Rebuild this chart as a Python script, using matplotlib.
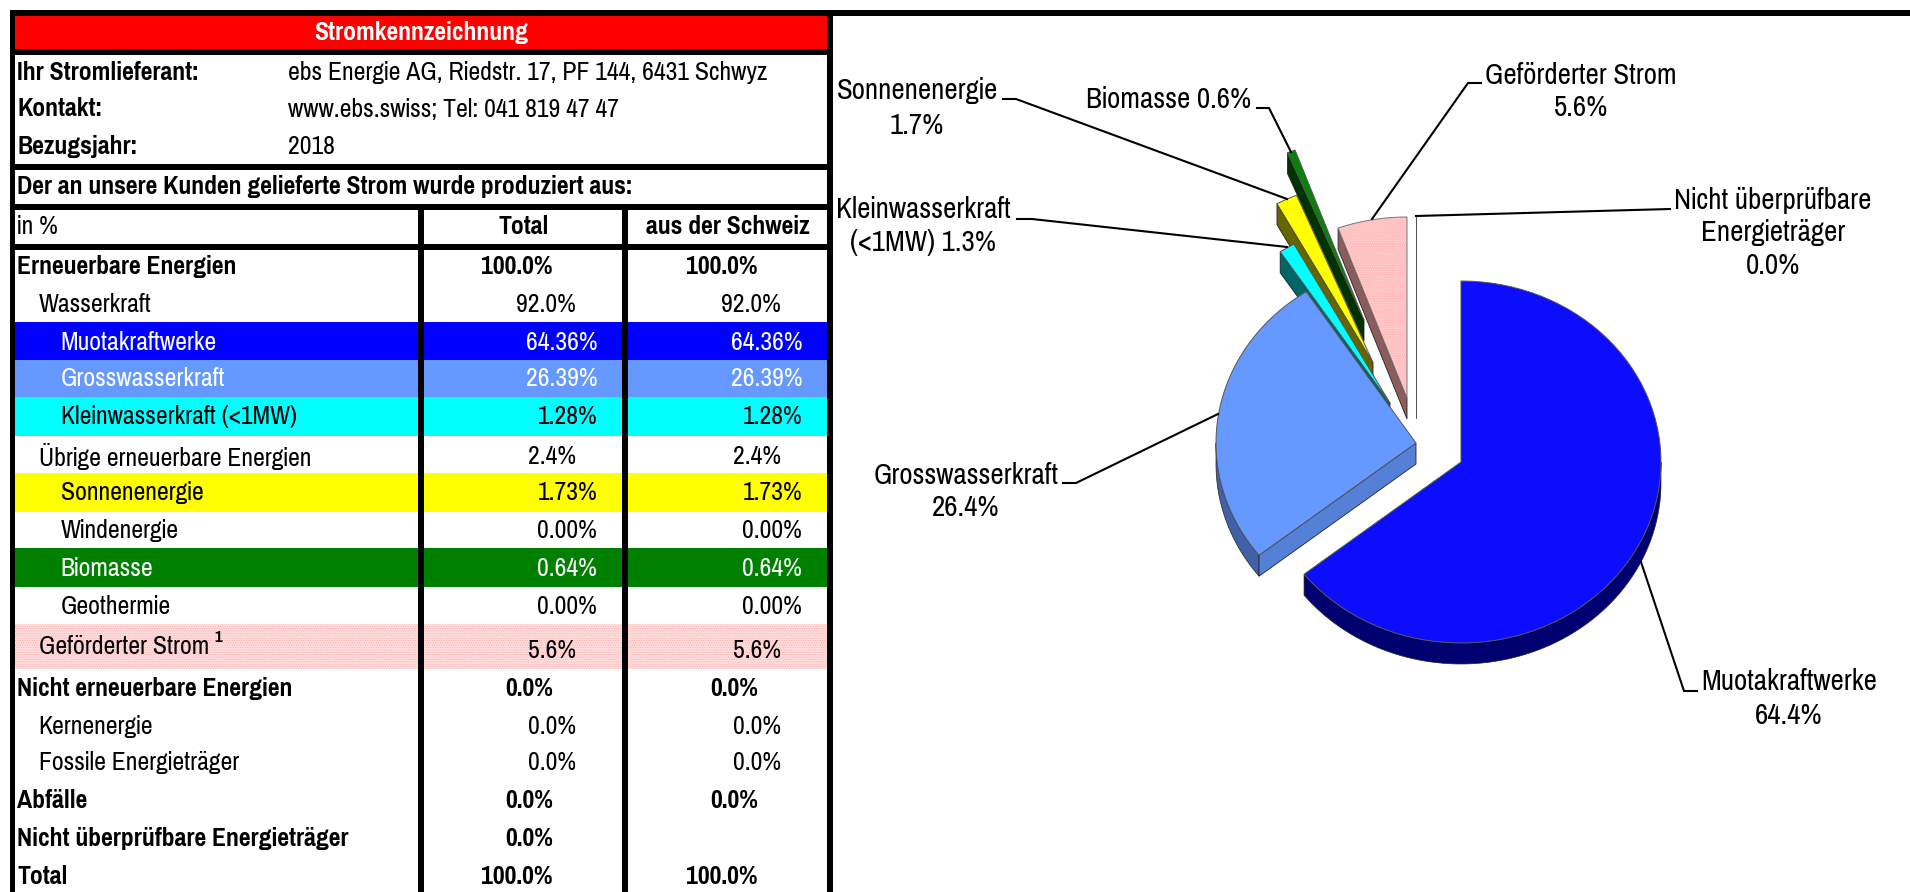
import numpy as np
import matplotlib
matplotlib.use('Agg')
import matplotlib.pyplot as plt
from matplotlib.patches import Rectangle, Polygon

plt.rcParams['font.family'] = ['Pragati Narrow', 'Liberation Sans', 'DejaVu Sans']
plt.rcParams['hatch.linewidth'] = 0.4

title = 'Stromkennzeichnung'
info_keys = ['Ihr Stromlieferant:', 'Kontakt:', 'Bezugsjahr:']
info_values = ['ebs Energie AG, Riedstr. 17, PF 144, 6431 Schwyz',
               'www.ebs.swiss; Tel: 041 819 47 47', '2018']
subtitle = 'Der an unsere Kunden gelieferte Strom wurde produziert aus:'

# Tabelle
row_labels = ['Erneuerbare Energien', 'Wasserkraft', 'Muotakraftwerke', 'Grosswasserkraft',
              'Kleinwasserkraft (<1MW)', 'Übrige erneuerbare Energien', 'Sonnenenergie',
              'Windenergie', 'Biomasse', 'Geothermie', 'Geförderter Strom',
              'Nicht erneuerbare Energien', 'Kernenergie', 'Fossile Energieträger',
              'Abfälle', 'Nicht überprüfbare Energieträger', 'Total']
row_total = ['100.0%', '92.0%', '64.36%', '26.39%', '1.28%', '2.4%', '1.73%', '0.00%',
             '0.64%', '0.00%', '5.6%', '0.0%', '0.0%', '0.0%', '0.0%', '0.0%', '100.0%']
row_swiss = ['100.0%', '92.0%', '64.36%', '26.39%', '1.28%', '2.4%', '1.73%', '0.00%',
             '0.64%', '0.00%', '5.6%', '0.0%', '0.0%', '0.0%', '0.0%', '', '100.0%']
row_level = [0, 1, 2, 2, 2, 1, 2, 2, 2, 2, 1, 0, 1, 1, 0, 0, 0]

# Torte
pie_values = [64.36, 26.39, 1.28, 1.73, 0.64, 5.6, 0.0]
pie_labels = [['Muotakraftwerke', '64.4%'], ['Grosswasserkraft', '26.4%'],
              ['Kleinwasserkraft', '(<1MW) 1.3%'], ['Sonnenenergie', '1.7%'],
              ['Biomasse 0.6%'], ['Geförderter Strom', '5.6%'],
              ['Nicht überprüfbare', 'Energieträger', '0.0%']]

# Layout in Pixeln
row_y = [267, 304, 343, 379, 417, 456, 493, 530, 568, 606, 646, 689, 726, 763, 801, 839, 876]
row_band = {2: (322, 360, '#0000FF', 'white'), 3: (360, 397, '#6699FF', 'white'),
            4: (397, 436, '#00FFFF', 'black'), 6: (473, 512, '#FFFF00', 'black'),
            8: (548, 587, '#008000', 'white')}
label_x = [17, 38.5, 60.5]
value_right = [553, 576, 597]
cols = [(15, 418), (424, 622), (628, 827)]

centres = [(1461, 462), (1416, 443), (1390, 403), (1373, 362.5), (1364, 320), (1407, 398), (1416, 397)]
face_col = ['#0C0CFF', '#6699FF', '#00FFFF', '#FFFF00', '#0A800A', '#FFBFBF', '#FFFFFF']
cut_col = ['#000070', '#5580D8', '#006666', '#666600', '#003300', '#8A5C5C', '#FFFFFF']
arc_col = ['#000070', '#4060A8', '#006666', '#666600', '#003300', '#8A5C5C', '#FFFFFF']
draw_order = [5, 6, 4, 3, 2, 1, 0]
rx, ry, depth = 200, 181, 21

leaders = [[(1697, 691), (1684, 691), (1641, 562)],
           [(1063, 483), (1076, 483), (1218, 414)],
           [(1017, 219), (1032, 219), (1287, 247)],
           [(1003, 99), (1016, 99), (1287, 199)],
           [(1257, 108), (1269, 108), (1291, 152)],
           [(1481, 83), (1468, 83), (1372, 219)],
           [(1670, 209), (1416, 216)]]
label_pos = [(1789, [681, 714]), (966, [474, 507]), (923, [209, 242]), (917, [89, 124]),
             (1169, [99]), (1581, [74, 107]), (1773, [199, 232, 265])]

fig = plt.figure(figsize=(19.10, 8.92), dpi=100)
ax = fig.add_axes([0, 0, 1, 1])
ax.set_xlim(0, 1910)
ax.set_ylim(892, 0)
ax.axis('off')


def px(size):
    return size * 0.72


def block(x0, y0, x1, y1, color):
    ax.add_patch(Rectangle((x0, y0), x1 - x0, y1 - y0, fc=color, ec='none', lw=0))


# Rahmen
block(10, 10, 1910, 16, 'black')
block(10, 10, 15, 892, 'black')
block(827, 10, 833, 892, 'black')
block(15, 16, 827, 49, '#FF0000')
block(15, 49, 827, 55, 'black')
block(15, 164, 827, 170, 'black')
block(15, 204, 827, 210, 'black')
block(15, 244, 827, 250, 'black')
block(418, 210, 424, 892, 'black')
block(622, 210, 628, 892, 'black')

ts = 28
ax.text(421, 32, title, color='white', fontsize=px(ts), fontweight='bold', ha='center', va='center')
for key, val, y in zip(info_keys, info_values, [72, 109, 146]):
    ax.text(17, y, key, fontsize=px(ts), fontweight='bold', va='center')
    ax.text(288, y, val, fontsize=px(ts), va='center')
ax.text(17, 187, subtitle, fontsize=px(ts), fontweight='bold', va='center')
ax.text(17, 227, 'in %', fontsize=px(ts), va='center')
ax.text(524, 227, 'Total', fontsize=px(ts), fontweight='bold', ha='center', va='center')
ax.text(728, 227, 'aus der Schweiz', fontsize=px(ts), fontweight='bold', ha='center', va='center')

for i, label in enumerate(row_labels):
    lev = row_level[i]
    weight = 'bold' if lev == 0 else 'normal'
    color = 'black'
    if i in row_band:
        y0, y1, fill, color = row_band[i]
        for c0, c1 in cols:
            block(c0, y0, c1, y1, fill)
    if i == 10:
        for c0, c1 in cols:
            ax.add_patch(Rectangle((c0, 624), c1 - c0, 45, fc='#FFDCDC', ec='#FFACAC', lw=0, hatch='.......'))
    ax.text(label_x[lev], row_y[i], label, color=color, fontsize=px(ts), fontweight=weight, va='center')
    vy = 650 if i == 10 else row_y[i]
    ax.text(value_right[lev], vy, row_total[i], color=color, fontsize=px(ts), fontweight=weight,
            ha='right', va='center')
    ax.text(value_right[lev] + 205, vy, row_swiss[i], color=color, fontsize=px(ts), fontweight=weight,
            ha='right', va='center')
ax.text(214, 637, '1', fontsize=px(18), fontweight='bold', va='center')


def arc(cx, cy, a, b):
    # Winkel im Uhrzeigersinn ab 12 Uhr
    t = np.radians(np.linspace(a, b, 80))
    return np.column_stack([cx + rx * np.sin(t), cy - ry * np.cos(t)])


starts = np.cumsum([0] + pie_values[:-1]) * 3.6
ends = np.cumsum(pie_values) * 3.6

for i in draw_order:
    a, b = starts[i], ends[i]
    cx, cy = centres[i]
    down = np.array([0, depth])
    low0, low1 = max(a, 90), min(b, 270)
    if low1 > low0:
        top = arc(cx, cy, low0, low1)
        ax.add_patch(Polygon(np.vstack([top, (top + down)[::-1]]), fc=arc_col[i], ec='#222222', lw=0.5))
    if 180 < a <= 360.001:
        p = arc(cx, cy, a, a)[0]
        c = np.array([cx, cy])
        ax.add_patch(Polygon([c, p, p + down, c + down], fc=cut_col[i], ec='#555555' if i == 6 else '#222222', lw=0.6))
    if 0 < b < 180:
        p = arc(cx, cy, b, b)[0]
        c = np.array([cx, cy])
        ax.add_patch(Polygon([c, p, p + down, c + down], fc=cut_col[i], ec='#222222', lw=0.6))
    pts = np.vstack([[cx, cy], arc(cx, cy, a, b)])
    if i == 5:
        ax.add_patch(Polygon(pts, fc=face_col[i], ec='#FFD8D8', lw=0, hatch='.......'))
        ax.add_patch(Polygon(pts, fc='none', ec='#777777', lw=0.7))
    else:
        ax.add_patch(Polygon(pts, fc=face_col[i], ec='#555555', lw=0.7))

for pts in leaders:
    xs, ys = zip(*pts)
    ax.plot(xs, ys, color='black', lw=1.5, solid_joinstyle='miter')

for lines, (x, ys) in zip(pie_labels, label_pos):
    for line, y in zip(lines, ys):
        ax.text(x, y + 1, line, fontsize=px(31.5), ha='center', va='center')

fig.savefig('out.png', dpi=100)
